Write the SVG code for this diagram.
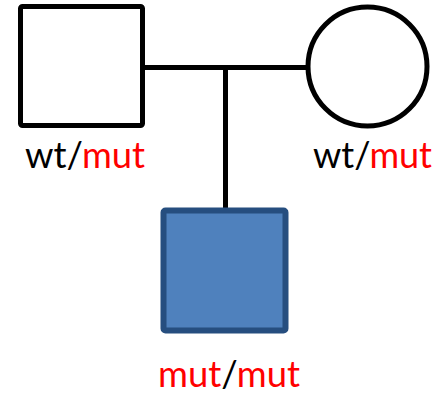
<svg xmlns="http://www.w3.org/2000/svg" width="436" height="397" viewBox="0 0 436 397">
<style>
.lbl{font-family:Lato,"Liberation Sans",sans-serif;font-size:36px;fill:#000}
.red{fill:#ff0000}
.line{stroke:#000;stroke-width:5;fill:none}
</style>
<rect width="436" height="397" fill="#fff"/>
<g id="connectors">
<line class="line" x1="145" y1="67.5" x2="306" y2="67.5"/>
<line class="line" x1="225.5" y1="67.5" x2="225.5" y2="210"/>
</g>
<g id="father">
<rect x="20.5" y="6.5" width="122" height="119" rx="2" fill="#fff" stroke="#000" stroke-width="5"/>
<text class="lbl" x="25" y="168" textLength="120" lengthAdjust="spacingAndGlyphs">wt/<tspan class="red">mut</tspan></text>
</g>
<g id="mother">
<circle cx="367.5" cy="66.5" r="59.5" fill="#fff" stroke="#000" stroke-width="5"/>
<text class="lbl" x="313" y="168" textLength="119" lengthAdjust="spacingAndGlyphs">wt/<tspan class="red">mut</tspan></text>
</g>
<g id="child">
<rect x="163.5" y="210.5" width="122" height="120" rx="2" fill="#4f81bd" stroke="#264e7f" stroke-width="6"/>
<text class="lbl" x="158" y="387" textLength="142" lengthAdjust="spacingAndGlyphs"><tspan class="red">mut</tspan>/<tspan class="red">mut</tspan></text>
</g>
</svg>
